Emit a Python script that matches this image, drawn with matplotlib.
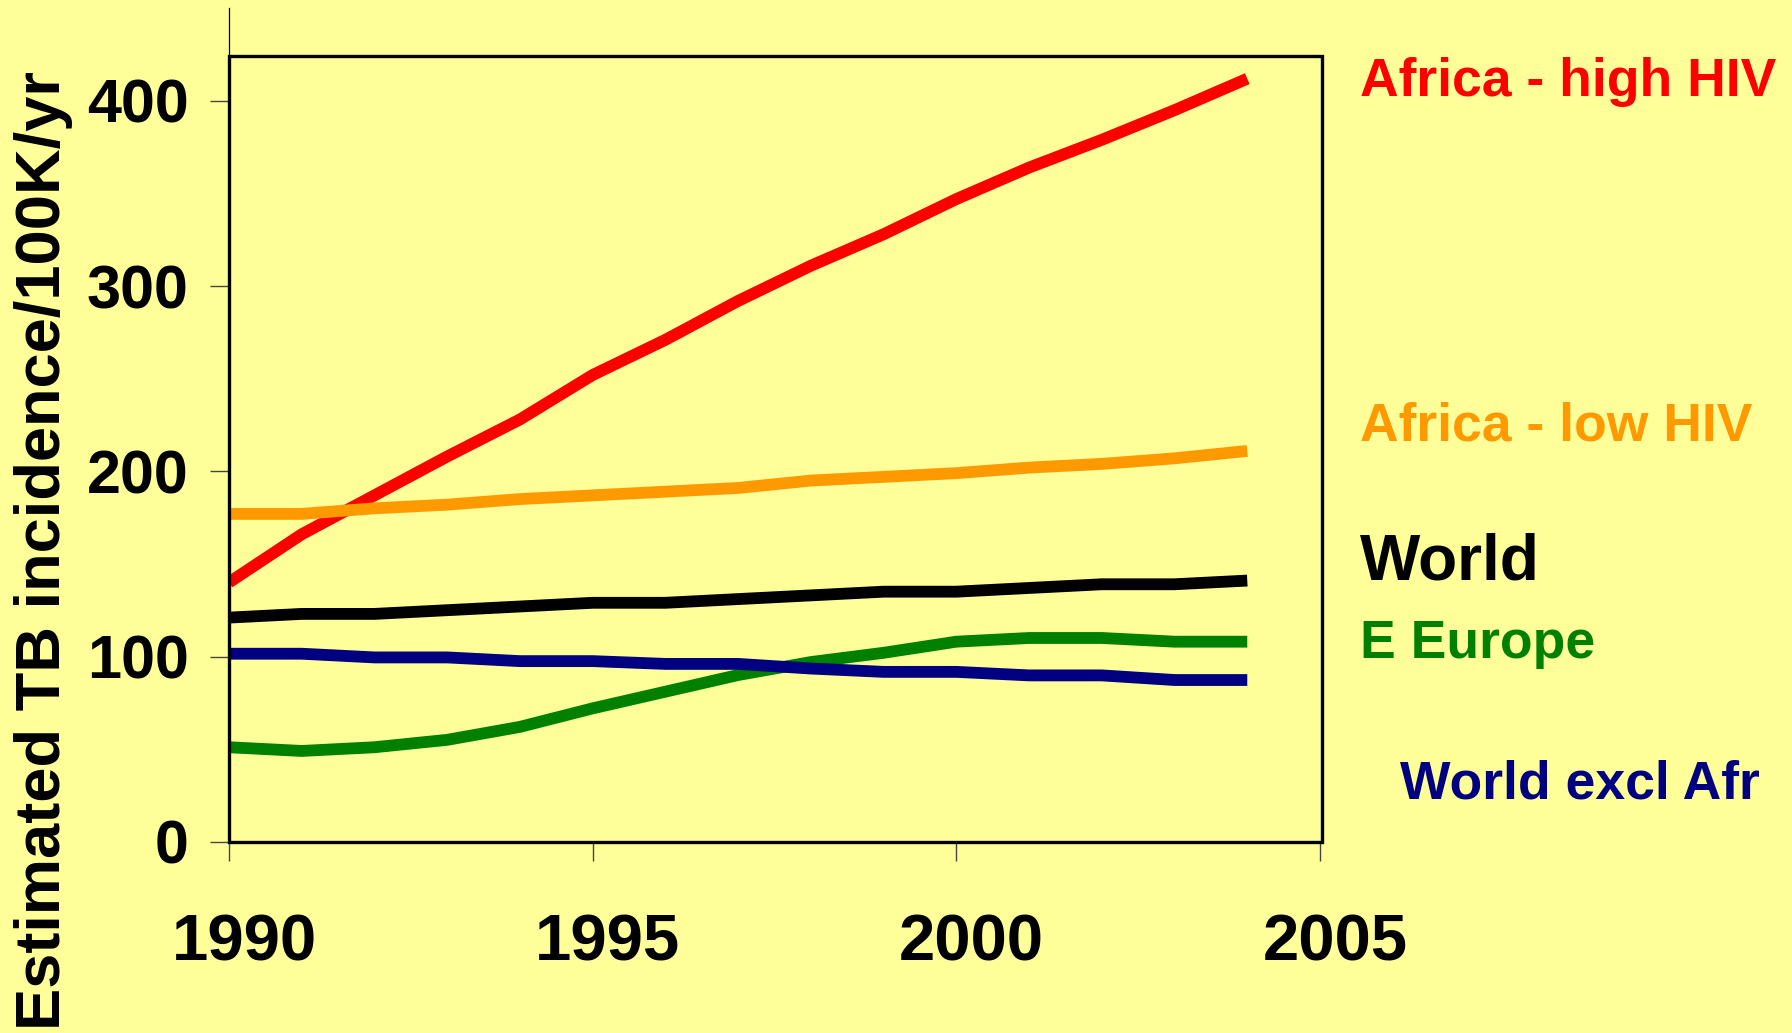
import numpy as np
import matplotlib
matplotlib.use('Agg')
import matplotlib.pyplot as plt
from matplotlib.patches import Rectangle
import matplotlib.transforms as mtrans

plt.rcParams['font.family'] = ['Liberation Sans', 'DejaVu Sans']
plt.rcParams['font.weight'] = 'bold'

years = np.arange(1990, 2005)

africa_high = [140, 166, 187, 208, 228, 252, 271, 292, 311, 328, 347, 364, 379, 395, 412]
africa_low = [177, 177, 180, 182, 185, 187, 189, 191, 195, 197, 199, 202, 204, 207, 211]
world = [121, 123, 123, 125, 127, 129, 129, 131, 133, 135, 135, 137, 139, 139, 141]
e_europe = [51, 49, 51, 55, 62, 72, 81, 90, 97, 102, 108, 110, 110, 108, 108]
world_excl = [101.5, 101.5, 99.5, 99.5, 97.5, 97.5, 96, 96, 93.5, 91.7, 91.7, 89.8, 89.8, 87.3, 87.3]

# label text, colour, x, y, size
labels = [
    ('Africa - high HIV', '#FF0000', 2005.55, 410, 38.5),
    ('Africa - low HIV', '#FF9900', 2005.55, 224, 38.5),
    ('World', '#000000', 2005.55, 151, 46),
    ('E Europe', '#008000', 2005.55, 107, 38.5),
    ('World excl Afr', '#000080', 2006.1, 31, 38.5),
]

bg = '#FFFF99'
fig = plt.figure(figsize=(17.92, 10.33), dpi=100, facecolor=bg)
ax = fig.add_axes([229/1792., 1 - 841.7/1033., (1320-229)/1792., 450*1.852/1033.])
ax.set_facecolor(bg)

series = [(africa_high, '#FF0000'), (africa_low, '#FF9900'), (world, '#000000'),
          (e_europe, '#008000'), (world_excl, '#000080')]
for vals, col in series:
    ax.plot(years, vals, color=col, lw=8.5, solid_capstyle='butt', solid_joinstyle='round')

ax.set_xlim(1990, 2005)
ax.set_ylim(0, 450)

# plot box
ax.add_patch(Rectangle((1990, 0), 15.03, 424.5, fill=False, lw=2.4, ec='black',
                       clip_on=False, zorder=5))
for s in ['top', 'right', 'bottom']:
    ax.spines[s].set_visible(False)
ax.spines['left'].set_linewidth(0.9)

ax.set_xticks([1990, 1995, 2000, 2005])
ax.set_yticks([0, 100, 200, 300, 400])
ax.tick_params(axis='both', direction='out', length=14, width=1, color='#444444')
ax.tick_params(axis='x', labelsize=47, pad=38)
ax.tick_params(axis='y', labelsize=44, pad=15)
off = mtrans.ScaledTranslation(15/100., 0, fig.dpi_scale_trans)
for lab in ax.get_xticklabels():
    lab.set_transform(lab.get_transform() + off)

for txt, col, x, y, sz in labels:
    ax.text(x, y, txt, color=col, fontsize=sz, fontweight='bold', va='center',
            ha='left', clip_on=False)

fig.text(44/1792., 1 - 550/1033., 'Estimated TB incidence/100K/yr', rotation=90,
         fontsize=45.5, fontweight='bold', va='center', ha='center')

fig.savefig('out.png', dpi=100, facecolor=bg)
